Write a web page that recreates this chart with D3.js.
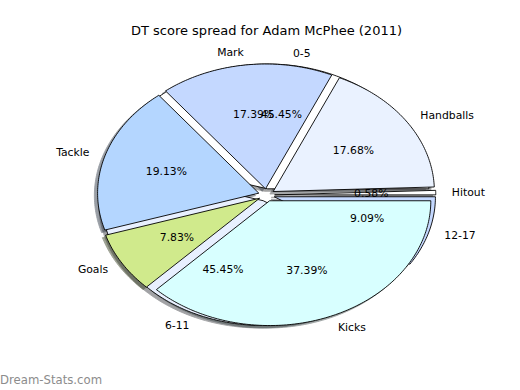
<!DOCTYPE html>
<html>
<head>
<meta charset="utf-8">
<script src="https://cdn.jsdelivr.net/npm/d3@7"></script>
<style>
  body { margin: 0; background: #fff; }
  svg { display: block; font-family: "DejaVu Sans", sans-serif; }
</style>
</head>
<body>
<svg id="chart" width="520" height="390"></svg>
<script>
// data, counterclockwise from 3 o'clock
var statLabels = ["Hitout", "Handballs", "Mark", "Tackle", "Goals", "Kicks"];
var statValues = [0.58, 17.68, 17.39, 19.13, 7.83, 37.39];
var statColors = ["#ffffff", "#eaf2ff", "#c4d8ff", "#b4d6ff", "#d0ea8c", "#d8ffff"];

var rangeLabels = ["0-5", "6-11", "12-17"];
var rangeValues = [45.45, 45.45, 9.09];
var rangeColors = ["#ffffff", "#e8f0ff", "#c4d8ff"];

var TITLE = "DT score spread for Adam McPhee (2011)";
var EXPLODE = 0.05;

const svg = d3.select("#chart");

// axes box like matplotlib default, limits -1.25..1.25
const x = d3.scaleLinear().domain([-1.25, 1.25]).range([65, 468]);
const y = d3.scaleLinear().domain([-1.25, 1.25]).range([351, 39]);

const pie = d3.pie().sort(null).startAngle(0).endAngle(2 * Math.PI);
const statArcs = pie(statValues);
const rangeArcs = pie(rangeValues);

function wedgePoints(d, off){
    const mid = (d.startAngle + d.endAngle) / 2;
    const cx = EXPLODE * Math.cos(mid) + off, cy = EXPLODE * Math.sin(mid) + off;
    const n = Math.max(4, Math.ceil((d.endAngle - d.startAngle) * 60));
    const pts = [[cx, cy]];
    for(let i = 0; i <= n; i++){
        const a = d.startAngle + (d.endAngle - d.startAngle) * i / n;
        pts.push([cx + Math.cos(a), cy + Math.sin(a)]);
    }
    return pts;
}
const line = d3.line().x((p) => x(p[0])).y((p) => y(p[1]));
const wedgePath = (d, off) => line(wedgePoints(d, off)) + "Z";

function darker(c){
    const r = d3.rgb(c);
    return d3.rgb(r.r * 0.3, r.g * 0.3, r.b * 0.3).toString();
}

// shadows first (below every wedge)
[[rangeArcs, rangeColors], [statArcs, statColors]].forEach(([arcs, colors]) => {
    svg.append('g')
        .attr('opacity', 0.5)
        .selectAll('path')
        .data(arcs)
        .join('path')
        .attr('d', (d) => wedgePath(d, -0.02))
        .attr('fill', (d, i) => darker(colors[i]))
        .attr('stroke', (d, i) => darker(colors[i]))
        .attr('stroke-width', 0.9);
});

// wedges: ranges beneath, stats on top
[[rangeArcs, rangeColors], [statArcs, statColors]].forEach(([arcs, colors]) => {
    svg.append('g')
        .selectAll('path')
        .data(arcs)
        .join('path')
        .attr('d', (d) => wedgePath(d, 0))
        .attr('fill', (d, i) => colors[i])
        .attr('stroke', '#000')
        .attr('stroke-width', 0.9)
        .attr('stroke-linejoin', 'miter');
});

const pctFormat = d3.format('.2f');
function addTexts(arcs, labels){
    const g = svg.append('g').attr('font-size', '10.8px').attr('fill', '#000');
    const total = d3.sum(arcs, (a) => a.value);
    arcs.forEach((d, i) => {
        const mid = (d.startAngle + d.endAngle) / 2;
        const cx = EXPLODE * Math.cos(mid), cy = EXPLODE * Math.sin(mid);
        const lx = cx + 1.1 * Math.cos(mid), ly = cy + 1.1 * Math.sin(mid);
        g.append('text')
            .attr('x', x(lx))
            .attr('y', y(ly))
            .attr('dy', '0.35em')
            .attr('text-anchor', lx > 0 ? 'start' : 'end')
            .text(labels[i]);
        const px = cx + 0.6 * Math.cos(mid), py = cy + 0.6 * Math.sin(mid);
        g.append('text')
            .attr('x', x(px))
            .attr('y', y(py))
            .attr('dy', '0.35em')
            .attr('text-anchor', 'middle')
            .text(pctFormat(d.value / total * 100) + '%');
    });
}
addTexts(rangeArcs, rangeLabels);
addTexts(statArcs, statLabels);

svg.append('text')
    .attr('x', x(0))
    .attr('y', 30)
    .attr('dy', '0.35em')
    .attr('text-anchor', 'middle')
    .attr('font-size', '13px')
    .text(TITLE);

svg.append('text')
    .attr('x', 0)
    .attr('y', 384)
    .attr('font-size', '11.7px')
    .attr('fill', '#8c8c8c')
    .text('Dream-Stats.com');
</script>
</body>
</html>
